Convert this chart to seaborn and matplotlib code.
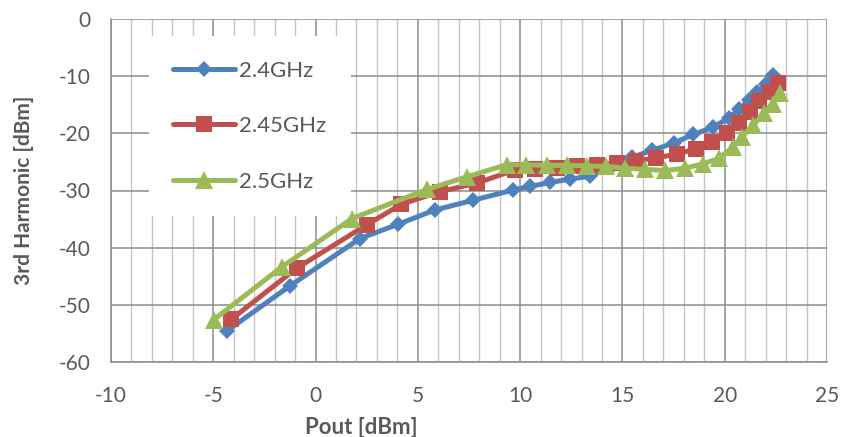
import matplotlib
matplotlib.use("Agg")
import matplotlib.pyplot as plt
import seaborn as sns
import numpy as np
from matplotlib.ticker import MultipleLocator

# ---- data ----
x_24 = [-4.35, -1.26, 2.17, 4.04, 5.84, 7.71, 9.67, 10.48, 11.46, 12.44, 13.42, 14.45,
        15.46, 16.44, 17.5, 18.47, 19.45, 20.19, 20.7, 21.2, 21.6, 22.0, 22.36]
y_24 = [-54.6, -46.7, -38.4, -35.9, -33.4, -31.7, -29.9, -29.3, -28.6, -28.0, -27.5, -25.9,
        -24.2, -23.0, -21.7, -20.2, -18.9, -17.3, -15.8, -14.2, -12.8, -11.3, -9.8]

x_245 = [-4.11, -0.93, 2.5, 4.2, 6.08, 7.88, 9.75, 10.73, 11.79, 12.77, 13.75, 14.73,
         15.67, 16.65, 17.69, 18.6, 19.37, 20.1, 20.7, 21.25, 21.7, 22.2, 22.6]
y_245 = [-52.5, -43.6, -36.0, -32.4, -30.2, -28.7, -26.4, -26.2, -26.0, -25.8, -25.5, -25.2,
         -24.8, -24.3, -23.6, -22.7, -21.5, -19.9, -18.2, -16.2, -14.4, -12.7, -11.2]

x_25 = [-4.98, -1.66, 1.78, 5.46, 7.39, 9.34, 10.29, 11.3, 12.28, 13.26, 14.2,
        15.13, 16.11, 17.09, 18.07, 18.96, 19.7, 20.4, 20.85, 21.4, 21.9, 22.35, 22.7]
y_25 = [-52.6, -43.4, -34.9, -29.8, -27.6, -25.5, -25.5, -25.6, -25.6, -25.7, -25.8,
        -26.1, -26.3, -26.5, -26.1, -25.3, -24.4, -22.4, -20.6, -18.6, -16.5, -14.9, -13.0]

series_labels = ["2.4GHz", "2.45GHz", "2.5GHz"]
x_ticks = [-10, -5, 0, 5, 10, 15, 20, 25]
y_ticks = [0, -10, -20, -30, -40, -50, -60]

# ---- style ----
sns.set_style("white")
plt.rcParams['font.family'] = ['Lato', 'DejaVu Sans']
plt.rcParams['axes.unicode_minus'] = False

colors = ["#4F81BD", "#C0504D", "#9BBB59"]
markers = ["D", "s", "^"]
msizes = [8.3, 11, 12.5]
text_col = "#595959"
grid_major = "#8C8C8C"
grid_minor = "#C4C4C4"

fig = plt.figure(figsize=(8.43, 4.37), dpi=100)
ax = fig.add_axes([111/843, 1-362/437, (827-111)/843, (362-19)/437])

for xs, ys, lab, c, m, ms in zip([x_24, x_245, x_25], [y_24, y_245, y_25],
                                 series_labels, colors, markers, msizes):
    sns.lineplot(x=xs, y=ys, ax=ax, sort=False, label=lab, color=c,
                 marker=m, markersize=ms, markeredgewidth=0, markeredgecolor=c,
                 linewidth=3.6, solid_capstyle="round", solid_joinstyle="round", zorder=3)

ax.set_xlim(-10, 25)
ax.set_ylim(-60, 0)
ax.set_xticks(x_ticks)
ax.set_yticks(y_ticks)
ax.xaxis.set_minor_locator(MultipleLocator(1))
ax.grid(True, which="major", axis="both", color=grid_major, linewidth=1.1, zorder=0)
ax.grid(True, which="minor", axis="x", color=grid_minor, linewidth=1.0, zorder=0)
ax.set_axisbelow(True)

for s in ["top", "right"]:
    ax.spines[s].set_visible(False)
for s in ["left", "bottom"]:
    ax.spines[s].set_color(grid_major)
    ax.spines[s].set_linewidth(1.1)

ax.tick_params(axis="both", which="major", direction="out", length=4,
               color=grid_major, labelcolor=text_col, labelsize=15)
ax.tick_params(axis="x", which="major", pad=13)
ax.tick_params(axis="y", which="major", pad=11)
ax.tick_params(axis="x", which="minor", length=0)

ax.set_xlabel("Pout [dBm]", fontsize=16, fontweight="bold", color=text_col)
ax.xaxis.set_label_coords(0.35, -0.16)
ax.set_ylabel("3rd Harmonic [dBm]", fontsize=15, fontweight="bold", color=text_col)
ax.yaxis.set_label_coords(-0.108, 0.5)

leg = ax.legend(loc="upper left", bbox_to_anchor=(0.053, 0.95), frameon=True,
                fontsize=16, labelspacing=1.6, borderpad=1.1, handlelength=2.75,
                handletextpad=0.2, borderaxespad=0)
leg.get_frame().set_facecolor("white")
leg.get_frame().set_edgecolor("none")
leg.get_frame().set_alpha(1)
leg.set_zorder(5)
for t in leg.get_texts():
    t.set_color(text_col)

fig.savefig("out.png", dpi=100)
